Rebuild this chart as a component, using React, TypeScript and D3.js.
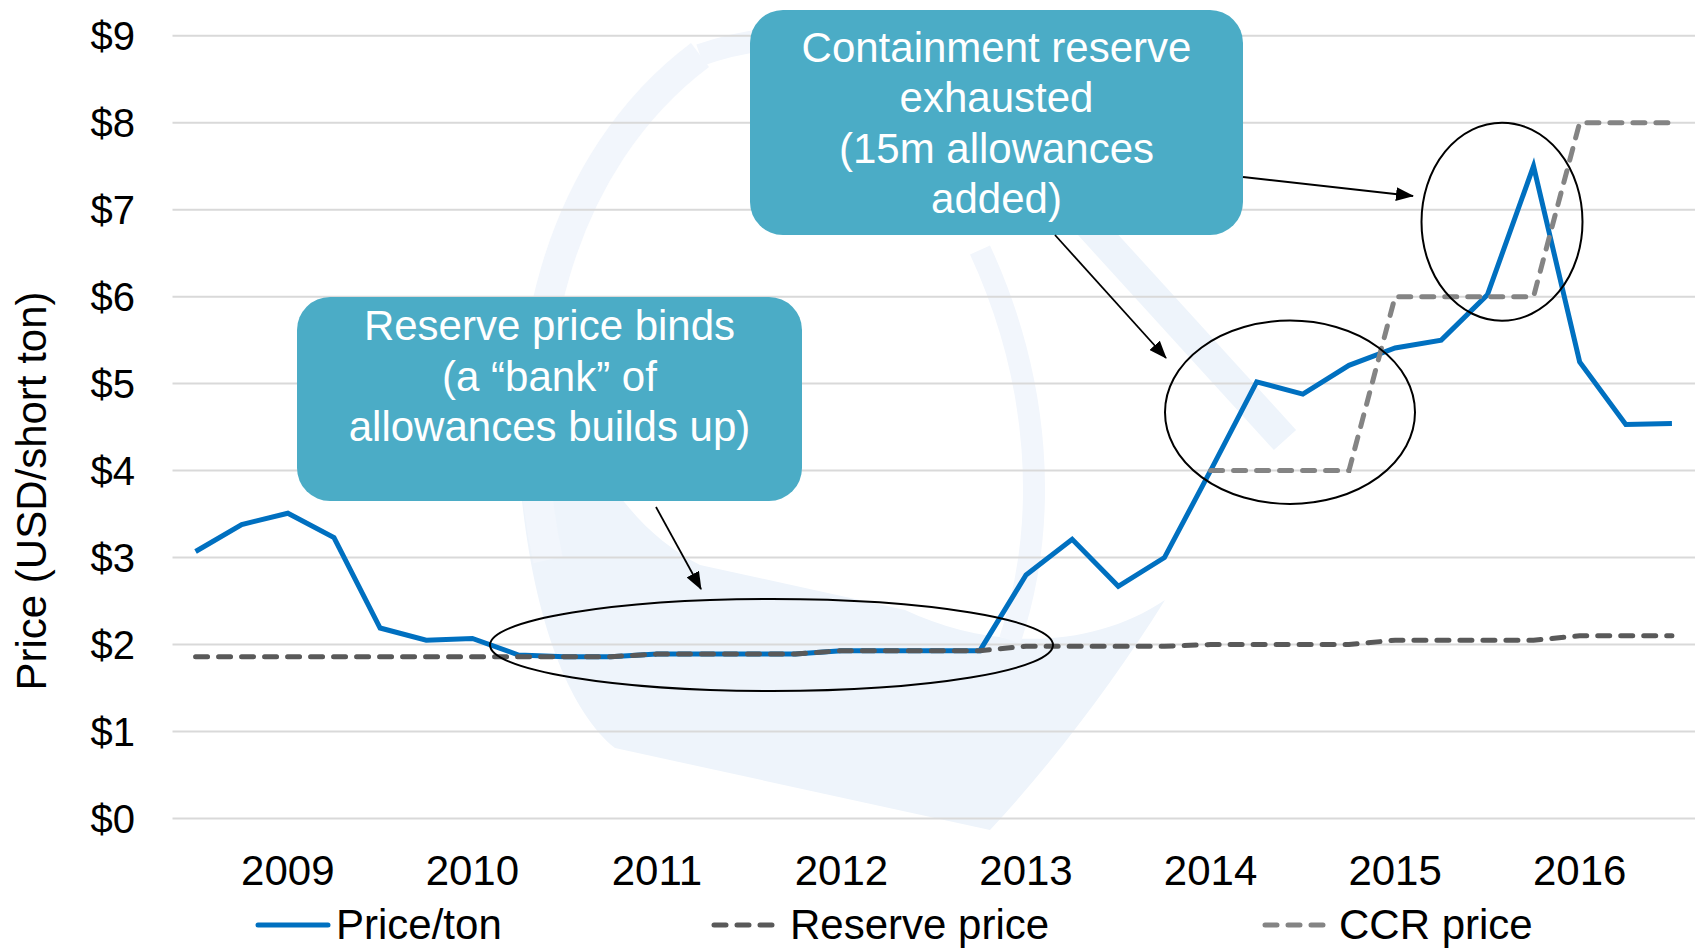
import React from "react";
import * as d3 from "d3";

// ---------- data ----------
const periods = [
  "Sep 2008", "Dec 2008", "Mar 2009", "Jun 2009", "Sep 2009", "Dec 2009",
  "Mar 2010", "Jun 2010", "Sep 2010", "Dec 2010", "Mar 2011", "Jun 2011",
  "Sep 2011", "Dec 2011", "Mar 2012", "Jun 2012", "Sep 2012", "Dec 2012",
  "Mar 2013", "Jun 2013", "Sep 2013", "Dec 2013", "Mar 2014", "Jun 2014",
  "Sep 2014", "Dec 2014", "Mar 2015", "Jun 2015", "Sep 2015", "Dec 2015",
  "Mar 2016", "Jun 2016", "Sep 2016",
];
const pricePerTon = [
  3.07, 3.38, 3.51, 3.23, 2.19, 2.05, 2.07, 1.88, 1.86, 1.86, 1.89, 1.89,
  1.89, 1.89, 1.93, 1.93, 1.93, 1.93, 2.8, 3.21, 2.67, 3.0, 4.0, 5.02,
  4.88, 5.21, 5.41, 5.5, 6.02, 7.5, 5.25, 4.53, 4.54,
];
const reservePrice = [
  1.86, 1.86, 1.86, 1.86, 1.86, 1.86, 1.86, 1.86, 1.86, 1.86, 1.89, 1.89,
  1.89, 1.89, 1.93, 1.93, 1.93, 1.93, 1.98, 1.98, 1.98, 1.98, 2.0, 2.0,
  2.0, 2.0, 2.05, 2.05, 2.05, 2.05, 2.1, 2.1, 2.1,
];
const ccrPrice: (number | null)[] = [
  null, null, null, null, null, null, null, null, null, null, null, null,
  null, null, null, null, null, null, null, null, null, null, 4, 4,
  4, 4, 6, 6, 6, 6, 8, 8, 8,
];
const yearLabels = ["2009", "2010", "2011", "2012", "2013", "2014", "2015", "2016"];
const yTicks = [0, 1, 2, 3, 4, 5, 6, 7, 8, 9];
const seriesNames = ["Price/ton", "Reserve price", "CCR price"];
const box1Lines = ["Reserve price binds", "(a \u201cbank\u201d of", "allowances builds up)"];
const box2Lines = ["Containment reserve", "exhausted", "(15m allowances", "added)"];

// ---------- styles ----------
const FONT = "'Liberation Sans', Arial, Helvetica, sans-serif";
const BLUE = "#0070C0";
const RESERVE = "#595959";
const CCR = "#848484";
const GRID = "#D9D9D9";
const BOX = "#4BACC6";
const WM = "#EEF4FB";
const WM2 = "#F2F6FC";

export default function App() {
  const W = 1702;
  const H = 949;
  const x = d3.scalePoint<string>().domain(periods).range([172.5, 1695]).padding(0.5);
  const y = d3.scaleLinear().domain([0, 9]).range([818.5, 35.7]);

  const mkLine = d3
    .line<number | null>()
    .defined((d) => d != null)
    .x((_d, i) => x(periods[i]) as number)
    .y((d) => y(d as number));

  const x0 = 172.5;
  const x1 = 1695;

  return (
    <svg
      width={W}
      height={H}
      viewBox={`0 0 ${W} ${H}`}
      style={{ position: "absolute", left: 0, top: 0, background: "#fff" }}
      fontFamily={FONT}
    >
      <defs>
        <marker
          id="arrow"
          markerUnits="userSpaceOnUse"
          markerWidth={18}
          markerHeight={14}
          refX={17}
          refY={7}
          orient="auto"
        >
          <path d="M0,0 L18,7 L0,14 Z" fill="#000" />
        </marker>
      </defs>
      <rect x={0} y={0} width={W} height={H} fill="#fff" />

      {/* faint watermark */}
      <g>
        <path
          d="M520,480 C532,620 570,712 615,748 L990,830 C1055,760 1115,680 1165,600 C1090,650 990,650 905,610 L700,565 C620,525 565,430 545,300 Z"
          fill={WM}
        />
        <path d="M548,560 C505,360 560,160 700,55" fill="none" stroke={WM2} strokeWidth={30} />
        <path d="M700,55 C800,20 900,40 980,95" fill="none" stroke={WM2} strokeWidth={22} />
        <path d="M1080,215 L1285,440" fill="none" stroke={WM} strokeWidth={30} />
        <path d="M980,250 C1040,380 1050,520 1010,640" fill="none" stroke={WM2} strokeWidth={22} />
      </g>

      {/* gridlines */}
      {yTicks.map((t) => (
        <line key={t} x1={x0} x2={x1} y1={y(t)} y2={y(t)} stroke={GRID} strokeWidth={2} />
      ))}

      {/* y tick labels */}
      {yTicks.map((t) => (
        <text key={t} x={135} y={y(t) + 14} textAnchor="end" fontSize={40} fill="#000">
          {`$${t}`}
        </text>
      ))}

      {/* y title */}
      <text
        transform="translate(46,491) rotate(-90)"
        textAnchor="middle"
        fontSize={42}
        fill="#000"
      >
        Price (USD/short ton)
      </text>

      {/* x labels */}
      {yearLabels.map((yr) => (
        <text
          key={yr}
          x={x(`Mar ${yr}`) as number}
          y={885}
          textAnchor="middle"
          fontSize={42}
          fill="#000"
        >
          {yr}
        </text>
      ))}

      {/* series */}
      <path d={mkLine(pricePerTon) || ""} fill="none" stroke={BLUE} strokeWidth={5} strokeLinejoin="miter" />
      <path
        d={mkLine(reservePrice) || ""}
        fill="none"
        stroke={RESERVE}
        strokeWidth={5}
        strokeDasharray="12 11"
        strokeLinecap="round"
      />
      <path
        d={mkLine(ccrPrice) || ""}
        fill="none"
        stroke={CCR}
        strokeWidth={5}
        strokeDasharray="12 11"
        strokeLinecap="round"
      />

      {/* ellipses */}
      <ellipse cx={771.5} cy={645} rx={281.5} ry={46} fill="none" stroke="#000" strokeWidth={2} />
      <ellipse cx={1290} cy={412.3} rx={125} ry={91.7} fill="none" stroke="#000" strokeWidth={2} />
      <ellipse cx={1502} cy={221.7} rx={80.5} ry={99} fill="none" stroke="#000" strokeWidth={2} />

      {/* boxes */}
      <rect x={297} y={297} width={505} height={204} rx={33} fill={BOX} />
      {box1Lines.map((s, i) => (
        <text key={s} x={549.5} y={340 + i * 50.5} textAnchor="middle" fontSize={42} fill="#fff">
          {s}
        </text>
      ))}
      <rect x={750} y={10} width={493} height={225} rx={33} fill={BOX} />
      {box2Lines.map((s, i) => (
        <text key={s} x={996.5} y={61.7 + i * 50.5} textAnchor="middle" fontSize={42} fill="#fff">
          {s}
        </text>
      ))}

      {/* arrows */}
      <line x1={656} y1={507} x2={701} y2={589} stroke="#000" strokeWidth={1.8} markerEnd="url(#arrow)" />
      <line x1={1055} y1={235} x2={1166} y2={358} stroke="#000" strokeWidth={1.8} markerEnd="url(#arrow)" />
      <line x1={1243} y1={177} x2={1413} y2={196} stroke="#000" strokeWidth={1.8} markerEnd="url(#arrow)" />

      {/* legend */}
      <g>
        <line x1={258} x2={328} y1={925} y2={925} stroke={BLUE} strokeWidth={5} strokeLinecap="round" />
        <text x={336} y={939} fontSize={42} fill="#000">{seriesNames[0]}</text>
        <line
          x1={714}
          x2={772}
          y1={925}
          y2={925}
          stroke={RESERVE}
          strokeWidth={5}
          strokeDasharray="12 11"
          strokeLinecap="round"
        />
        <text x={790} y={939} fontSize={42} fill="#000">{seriesNames[1]}</text>
        <line
          x1={1265}
          x2={1323}
          y1={925}
          y2={925}
          stroke={CCR}
          strokeWidth={5}
          strokeDasharray="12 11"
          strokeLinecap="round"
        />
        <text x={1339} y={939} fontSize={42} fill="#000">{seriesNames[2]}</text>
      </g>
    </svg>
  );
}
